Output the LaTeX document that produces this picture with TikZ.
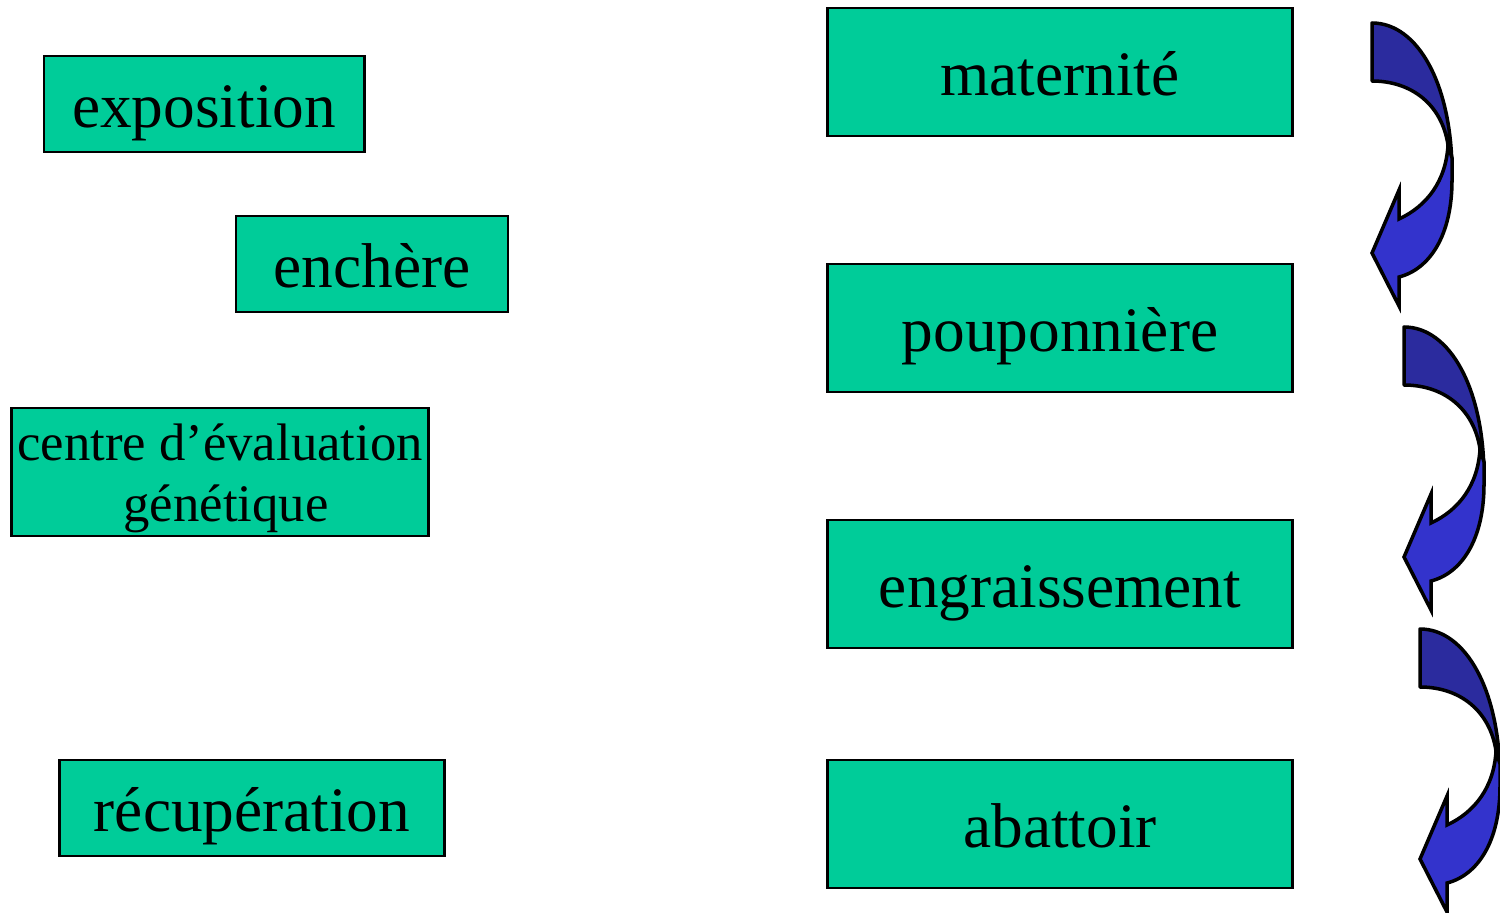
\documentclass[tikz,border=0pt]{standalone}
\usepackage{fontspec}
\setmainfont{Liberation Serif}
\usetikzlibrary{positioning}
\definecolor{box-green}{HTML}{00CC99}
\definecolor{arrow-dark}{HTML}{2B2B9E}
\definecolor{arrow-light}{HTML}{3333CC}

\tikzset{
  stage/.style={draw=black, thick, fill=box-green, inner sep=0pt, text height=0.56cm, text depth=0.1cm, font=\fontsize{18}{21}\selectfont},
  curvedarrow/.pic={
    \draw[line width=1pt, fill=arrow-dark, line join=round] (0,0) .. controls (46,0) and (80,62) .. (80,150) -- (76,122) .. controls (70,82) and (40,58) .. (0,58) -- cycle;
    \draw[line width=1pt, fill=arrow-light, line join=miter] (76,122) -- (80,135) -- (80,157) .. controls (80,212) and (58,246) .. (27,254) -- (27,283) -- (0,230) -- (27,167) -- (27,196) .. controls (55,183) and (74,158) .. (76,122) -- cycle;
  }
}

\begin{document}
\begin{tikzpicture}[x=0.01cm, y=-0.01cm]
\useasboundingbox (0,0) rectangle (1500,912);
% left column
\node[stage, minimum width=3.2cm, minimum height=0.96cm] (expo) at (204,104) {exposition};
\node[stage, minimum width=2.72cm, minimum height=0.96cm] (enchere) at (372,264) {enchère};
\node[stage, minimum width=4.16cm, minimum height=1.28cm, align=center, text height=, text depth=, font=\fontsize{15}{17.4}\selectfont] (centre) at (220,472) {\rule{0pt}{0.5cm}centre d’évaluation\\ \hspace*{0.12cm}génétique\rule[-0.126cm]{0pt}{0pt}};
\node[stage, minimum width=3.84cm, minimum height=0.96cm] (recup) at (252,808) {récupération};
% right column
\node[stage, minimum width=4.64cm, minimum height=1.28cm] (mater) at (1060,72) {maternité};
\node[stage, minimum width=4.64cm, minimum height=1.28cm] (poupon) at (1060,328) {pouponnière};
\node[stage, minimum width=4.64cm, minimum height=1.28cm] (engrais) at (1060,584) {engraissement};
\node[stage, minimum width=4.64cm, minimum height=1.28cm] (abat) at (1060,824) {abattoir};
% curved arrows
\pic at (1372,23) {curvedarrow};
\pic at (1404,327) {curvedarrow};
\pic at (1420,629) {curvedarrow};
\end{tikzpicture}
\end{document}
